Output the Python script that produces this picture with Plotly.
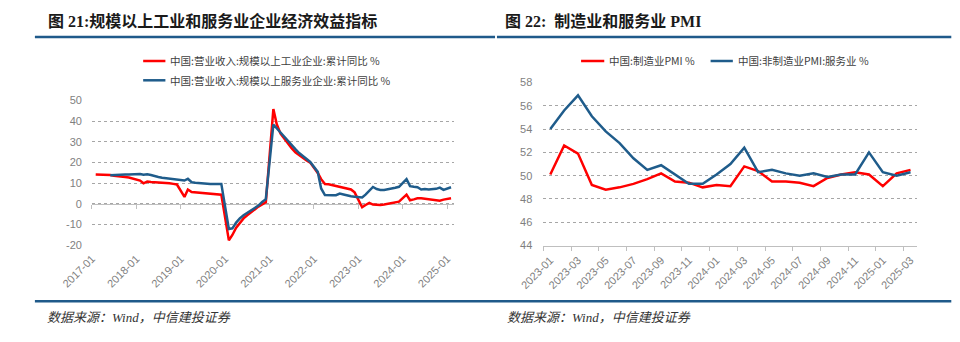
import plotly.graph_objects as go

W, H = 960, 342

# ---------------- data: left chart (cumulative YoY, %) ----------------
left_months = [f"{y}-{m:02d}" for y in range(2017, 2025) for m in range(2, 13)] + ["2025-02"]
left_ticks = ["2017-01", "2018-01", "2019-01", "2020-01", "2021-01",
              "2022-01", "2023-01", "2024-01", "2025-01"]
left_yticks = [-20, -10, 0, 10, 20, 30, 40, 50]
industry_name = "中国:营业收入:规模以上工业企业:累计同比 %"
services_name = "中国:营业收入:规模以上服务业企业:累计同比 %"
industry_rev = [
    14.3, 14.3, 14.2, 14.1, 14.0, 13.6, 13.3, 13.2, 13.0, 12.8, 12.3,
    11.3, 10.0, 10.8, 10.6, 10.5, 10.5, 10.4, 10.2, 10.0, 9.7, 9.4,
    3.4, 7.0, 5.8, 5.6, 5.5, 5.3, 5.1, 5.0, 4.8, 4.6, 4.5,
    -17.6, -15.0, -11.5, -9.0, -7.0, -5.5, -4.0, -2.5, -1.3, -0.2, 0.8,
    45.9, 38.5, 34.0, 31.5, 29.0, 27.0, 25.0, 23.5, 22.3, 21.0, 20.0,
    15.0, 12.0, 9.6, 9.5, 9.1, 8.8, 8.4, 7.9, 7.3, 7.0, 5.6,
    -1.6, -0.5, 0.5, -0.3, -0.5, -0.5, -0.3, 0.0, 0.4, 0.8, 1.1,
    4.5, 1.8, 2.2, 2.7, 2.8, 2.6, 2.3, 2.0, 1.8, 1.6, 2.1,
    2.8,
]
services_rev = [
    None, None, None, None, 13.9, 13.9, 14.0, 14.1, 14.2, 14.3, 14.3,
    14.5, 14.1, 14.3, 14.0, 13.3, 13.0, 12.7, 12.5, 12.3, 12.0, 11.7,
    11.3, 12.2, 10.5, 10.3, 10.1, 9.9, 9.8, 9.7, 9.7, 9.6, 9.7,
    -12.1, -11.8, -9.0, -7.0, -5.5, -4.4, -3.0, -1.8, -0.8, 1.0, 2.3,
    38.4, 36.5, 34.5, 32.3, 30.2, 28.6, 26.5, 24.6, 23.2, 21.8, 20.3,
    15.5, 7.5, 4.3, 4.4, 4.2, 4.2, 5.0, 4.6, 4.0, 3.7, 3.5,
    3.1, 4.5, 6.2, 8.2, 7.2, 6.8, 6.8, 7.0, 7.5, 7.8, 8.3,
    12.0, 8.6, 8.3, 8.1, 7.0, 7.2, 7.0, 7.1, 7.3, 7.9, 6.8,
    8.1,
]

# ---------------- data: right chart (PMI) ----------------
pmi_months = ["2023-01", "2023-02", "2023-03", "2023-04", "2023-05", "2023-06",
              "2023-07", "2023-08", "2023-09", "2023-10", "2023-11", "2023-12",
              "2024-01", "2024-02", "2024-03", "2024-04", "2024-05", "2024-06",
              "2024-07", "2024-08", "2024-09", "2024-10", "2024-11", "2024-12",
              "2025-01", "2025-02", "2025-03"]
mfg_name = "中国:制造业PMI %"
svc_name = "中国:非制造业PMI:服务业 %"
mfg_pmi = [50.1, 52.6, 51.9, 49.2, 48.8, 49.0, 49.3, 49.7, 50.2, 49.5, 49.4, 49.0,
           49.2, 49.1, 50.8, 50.4, 49.5, 49.5, 49.4, 49.1, 49.8, 50.1, 50.3, 50.1,
           49.1, 50.2, 50.5]
svc_pmi = [54.0, 55.6, 56.9, 55.1, 53.8, 52.8, 51.5, 50.5, 50.9, 50.1, 49.3, 49.3,
           50.1, 51.0, 52.4, 50.3, 50.5, 50.2, 50.0, 50.2, 49.9, 50.1, 50.1, 52.0,
           50.3, 50.0, 50.3]

title_left = "图 21:规模以上工业和服务业企业经济效益指标"
title_right = "图 22:  制造业和服务业 PMI"
source_text = "数据来源：Wind，中信建投证券"

# ---------------- styles ----------------
RED = "#ff0000"
BLUE = "#1f5c8b"
RULE = "#1f5a8a"
GRID = "#a6a6a6"
AXIS = "#bfbfbf"
TICKFONT = dict(family="Liberation Sans, Arial, sans-serif", size=11, color="#7f7f7f")
CJK = "Liberation Serif, Noto Sans CJK SC"
LEGFONT = dict(family="Noto Sans CJK SC", size=10.5, color="#404040")


def px(x):
    return x / W


def py(y):
    return 1 - y / H


# plot areas (pixels)
L_x0, L_x1, L_ytop, L_ybot = 62, 437, 98, 248
R_x0, R_x1, R_ytop, R_ybot = 529, 916, 79.3, 248.3
L_yrange = [-20, 50]
R_yrange = [44, 58]

left_dom_y = [py(L_ybot), py(L_ytop)]
zero_pos = left_dom_y[0] + (0 - L_yrange[0]) / (L_yrange[1] - L_yrange[0]) * (left_dom_y[1] - left_dom_y[0])

fig = go.Figure()
fig.add_trace(go.Scatter(x=left_months, y=industry_rev, name=industry_name, mode="lines",
                         line=dict(color=RED, width=2.5), xaxis="x", yaxis="y"))
fig.add_trace(go.Scatter(x=left_months, y=services_rev, name=services_name, mode="lines",
                         line=dict(color=BLUE, width=2.5), xaxis="x3", yaxis="y"))
pmi_x = list(range(len(pmi_months)))
fig.add_trace(go.Scatter(x=pmi_x, y=mfg_pmi, name=mfg_name, mode="lines",
                         line=dict(color=RED, width=2.5), xaxis="x2", yaxis="y2"))
fig.add_trace(go.Scatter(x=pmi_x, y=svc_pmi, name=svc_name, mode="lines",
                         line=dict(color=BLUE, width=2.5), xaxis="x2", yaxis="y2"))

left_range = ["2017-01-01", "2025-03-01"]

fig.update_layout(
    width=W, height=H, margin=dict(l=0, r=0, t=0, b=0),
    paper_bgcolor="white", plot_bgcolor="white", showlegend=False,
    xaxis=dict(domain=[px(L_x0), px(L_x1)], anchor="y", type="date", range=left_range,
               tickmode="array", tickvals=left_ticks, ticktext=left_ticks, tickangle=-45,
               showgrid=False, showline=False, ticks="", zeroline=False,
               tickfont=TICKFONT, ticklabelstandoff=4),
    xaxis3=dict(domain=[px(L_x0), px(L_x1)], overlaying="x", anchor="free", position=zero_pos,
                type="date", range=left_range, tickmode="array", tickvals=left_ticks,
                showticklabels=False, showgrid=False, zeroline=False,
                showline=True, linecolor=AXIS, linewidth=1, ticks="outside", ticklen=4,
                tickcolor=AXIS, tickwidth=1, layer="below traces"),
    yaxis=dict(domain=left_dom_y, anchor="x", range=L_yrange,
               tickmode="array", tickvals=left_yticks, ticktext=[str(v) for v in left_yticks],
               showgrid=True, gridcolor=GRID, griddash="dot", gridwidth=1,
               zeroline=False, showline=False, ticks="", tickfont=TICKFONT,
               ticklabelstandoff=9),
    xaxis2=dict(domain=[px(R_x0), px(R_x1)], anchor="y2", range=[-0.5, len(pmi_months) - 0.5],
                tickmode="array", tickvals=pmi_x[::2], ticktext=pmi_months[::2], tickangle=-45,
                ticks="", showgrid=False, zeroline=False, showline=True, linecolor=AXIS,
                linewidth=1, tickfont=TICKFONT, ticklabelstandoff=3,
                minor=dict(tickmode="linear", tick0=-0.5, dtick=2, ticks="outside", ticklen=4,
                           tickcolor=AXIS, tickwidth=1, showgrid=False)),
    yaxis2=dict(domain=[py(R_ybot), py(R_ytop)], anchor="x2", range=R_yrange, dtick=2, tick0=44,
                showgrid=True, gridcolor=GRID, griddash="dot", gridwidth=1,
                zeroline=False, showline=False, ticks="", tickfont=TICKFONT,
                ticklabelstandoff=10),
)

shapes = []
annotations = []

# header rules and footer rule
shapes.append(dict(type="line", xref="paper", yref="paper", x0=px(3), x1=px(479),
                   y0=py(32), y1=py(32), line=dict(color=RULE, width=2.5)))
shapes.append(dict(type="line", xref="paper", yref="paper", x0=px(481), x1=px(951),
                   y0=py(32), y1=py(32), line=dict(color=RULE, width=2.5)))
shapes.append(dict(type="line", xref="paper", yref="paper", x0=px(3), x1=px(951),
                   y0=py(306), y1=py(306), line=dict(color=RULE, width=2.5)))

# titles
annotations.append(dict(text="<b>" + title_left + "</b>", xref="paper", yref="paper",
                        x=px(14), y=py(16), xanchor="left", yanchor="middle", showarrow=False,
                        font=dict(family=CJK, size=16, color="#1a1a1a")))
annotations.append(dict(text="<b>" + title_right + "</b>", xref="paper", yref="paper",
                        x=px(487), y=py(16), xanchor="left", yanchor="middle", showarrow=False,
                        font=dict(family=CJK, size=16, color="#1a1a1a")))

# footers
for fx in (13, 489):
    annotations.append(dict(text="<i>" + source_text + "</i>", xref="paper", yref="paper",
                            x=px(fx), y=py(323), xanchor="left", yanchor="middle", showarrow=False,
                            font=dict(family=CJK, size=13, color="#333333")))

# manual legends
legend_items = [
    (industry_name, RED, 115, 138, 57),
    (services_name, BLUE, 115, 138, 77),
    (mfg_name, RED, 568, 592, 57),
    (svc_name, BLUE, 702, 725, 57),
]
for name, color, lx0, lx1, ly in legend_items:
    shapes.append(dict(type="line", xref="paper", yref="paper", x0=px(lx0), x1=px(lx1),
                       y0=py(ly), y1=py(ly), line=dict(color=color, width=2.5)))
    annotations.append(dict(text=name, xref="paper", yref="paper", x=px(lx1 + 3), y=py(ly),
                            xanchor="left", yanchor="middle", showarrow=False, font=LEGFONT))

fig.update_layout(shapes=shapes, annotations=annotations)

fig.write_html("out.html")
